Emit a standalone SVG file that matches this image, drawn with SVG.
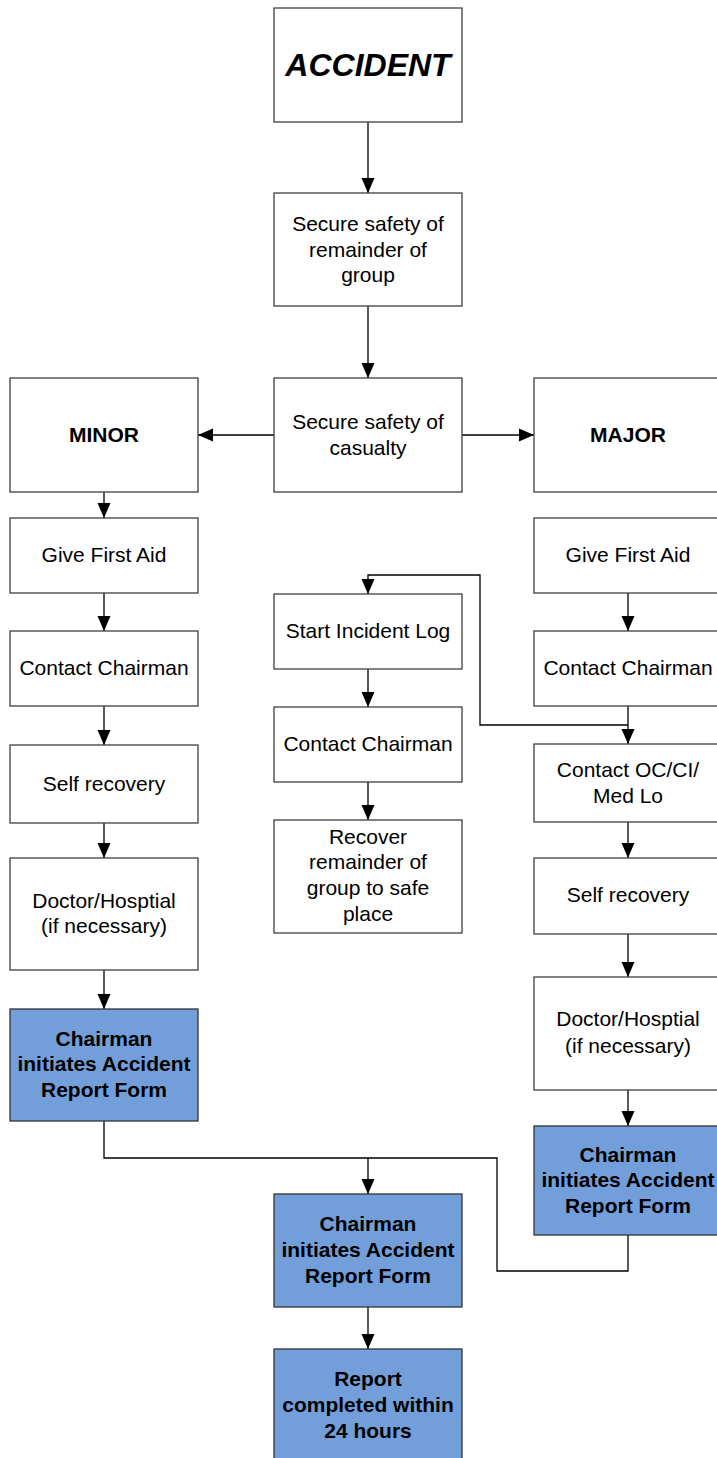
<svg xmlns="http://www.w3.org/2000/svg" width="717" height="1458" viewBox="0 0 717 1458">
<style>
.b{fill:#fff;stroke:#404040;stroke-width:1.3}
.f{fill:#729FDA;stroke:#333;stroke-width:1.3}
text{font-family:"Liberation Sans",Arial,sans-serif;font-size:21px;fill:#000;text-anchor:middle}
.bd{font-weight:bold}
.c{fill:none;stroke:#000;stroke-width:1.3}
</style>
<defs>
<marker id="a" markerUnits="userSpaceOnUse" markerWidth="15" markerHeight="14" viewBox="0 0 15 14" refX="15" refY="7" orient="auto">
<path d="M0,0.5 L15,7 L0,13.5 Z" fill="#000"/>
</marker>
</defs>
<g id="connectors">
<path class="c" d="M368,122 V193" marker-end="url(#a)"/>
<path class="c" d="M368,306 V378" marker-end="url(#a)"/>
<path class="c" d="M274,435 H198" marker-end="url(#a)"/>
<path class="c" d="M462,435 H534" marker-end="url(#a)"/>
<path class="c" d="M104,492 V518" marker-end="url(#a)"/>
<path class="c" d="M104,593 V631" marker-end="url(#a)"/>
<path class="c" d="M104,706 V745" marker-end="url(#a)"/>
<path class="c" d="M104,823 V858" marker-end="url(#a)"/>
<path class="c" d="M104,970 V1009" marker-end="url(#a)"/>
<path class="c" d="M628,593 V631" marker-end="url(#a)"/>
<path class="c" d="M628,706 V744" marker-end="url(#a)"/>
<path class="c" d="M628,725 H480 V575 H368 V594" marker-end="url(#a)"/>
<path class="c" d="M368,669 V707" marker-end="url(#a)"/>
<path class="c" d="M368,782 V820" marker-end="url(#a)"/>
<path class="c" d="M628,822 V858" marker-end="url(#a)"/>
<path class="c" d="M628,934 V977" marker-end="url(#a)"/>
<path class="c" d="M628,1090 V1126" marker-end="url(#a)"/>
<path class="c" d="M104,1121 V1158 H497 V1271 H628 V1235"/>
<path class="c" d="M368,1158 V1194" marker-end="url(#a)"/>
<path class="c" d="M368,1307 V1349" marker-end="url(#a)"/>
</g>
<g id="accident"><rect class="b" x="274" y="8" width="188" height="114"/><text x="368" y="76" class="bd" font-style="italic" style="font-size:32px">ACCIDENT</text></g>
<g id="secure-group"><rect class="b" x="274" y="193" width="188" height="113"/><text x="368" y="231">Secure safety of</text><text x="368" y="257">remainder of</text><text x="368" y="282">group</text></g>
<g id="secure-casualty"><rect class="b" x="274" y="378" width="188" height="114"/><text x="368" y="429">Secure safety of</text><text x="368" y="455">casualty</text></g>
<g id="minor"><rect class="b" x="10" y="378" width="188" height="114"/><text x="104" y="442" class="bd">MINOR</text></g>
<g id="major"><rect class="b" x="534" y="378" width="188" height="114"/><text x="628" y="442" class="bd">MAJOR</text></g>
<g id="l-firstaid"><rect class="b" x="10" y="518" width="188" height="75"/><text x="104" y="562">Give First Aid</text></g>
<g id="l-chairman"><rect class="b" x="10" y="631" width="188" height="75"/><text x="104" y="675">Contact Chairman</text></g>
<g id="l-selfrec"><rect class="b" x="10" y="745" width="188" height="78"/><text x="104" y="791">Self recovery</text></g>
<g id="l-doctor"><rect class="b" x="10" y="858" width="188" height="112"/><text x="104" y="908">Doctor/Hosptial</text><text x="104" y="933">(if necessary)</text></g>
<g id="l-report"><rect class="f" x="10" y="1009" width="188" height="112"/><text x="104" y="1046" class="bd">Chairman</text><text x="104" y="1071" class="bd">initiates Accident</text><text x="104" y="1097" class="bd">Report Form</text></g>
<g id="m-log"><rect class="b" x="274" y="594" width="188" height="75"/><text x="368" y="638">Start Incident Log</text></g>
<g id="m-chairman"><rect class="b" x="274" y="707" width="188" height="75"/><text x="368" y="751">Contact Chairman</text></g>
<g id="m-recover"><rect class="b" x="274" y="820" width="188" height="113"/><text x="368" y="844">Recover</text><text x="368" y="869">remainder of</text><text x="368" y="895">group to safe</text><text x="368" y="921">place</text></g>
<g id="m-report"><rect class="f" x="274" y="1194" width="188" height="113"/><text x="368" y="1231" class="bd">Chairman</text><text x="368" y="1257" class="bd">initiates Accident</text><text x="368" y="1283" class="bd">Report Form</text></g>
<g id="m-complete"><rect class="f" x="274" y="1349" width="188" height="115"/><text x="368" y="1386" class="bd">Report</text><text x="368" y="1412" class="bd">completed within</text><text x="368" y="1438" class="bd">24 hours</text></g>
<g id="r-firstaid"><rect class="b" x="534" y="518" width="188" height="75"/><text x="628" y="562">Give First Aid</text></g>
<g id="r-chairman"><rect class="b" x="534" y="631" width="188" height="75"/><text x="628" y="675">Contact Chairman</text></g>
<g id="r-oc"><rect class="b" x="534" y="744" width="188" height="78"/><text x="628" y="777">Contact OC/CI/</text><text x="628" y="803">Med Lo</text></g>
<g id="r-selfrec"><rect class="b" x="534" y="858" width="188" height="76"/><text x="628" y="902">Self recovery</text></g>
<g id="r-doctor"><rect class="b" x="534" y="977" width="188" height="113"/><text x="628" y="1026">Doctor/Hosptial</text><text x="628" y="1053">(if necessary)</text></g>
<g id="r-report"><rect class="f" x="534" y="1126" width="188" height="109"/><text x="628" y="1162" class="bd">Chairman</text><text x="628" y="1187" class="bd">initiates Accident</text><text x="628" y="1213" class="bd">Report Form</text></g>
</svg>
